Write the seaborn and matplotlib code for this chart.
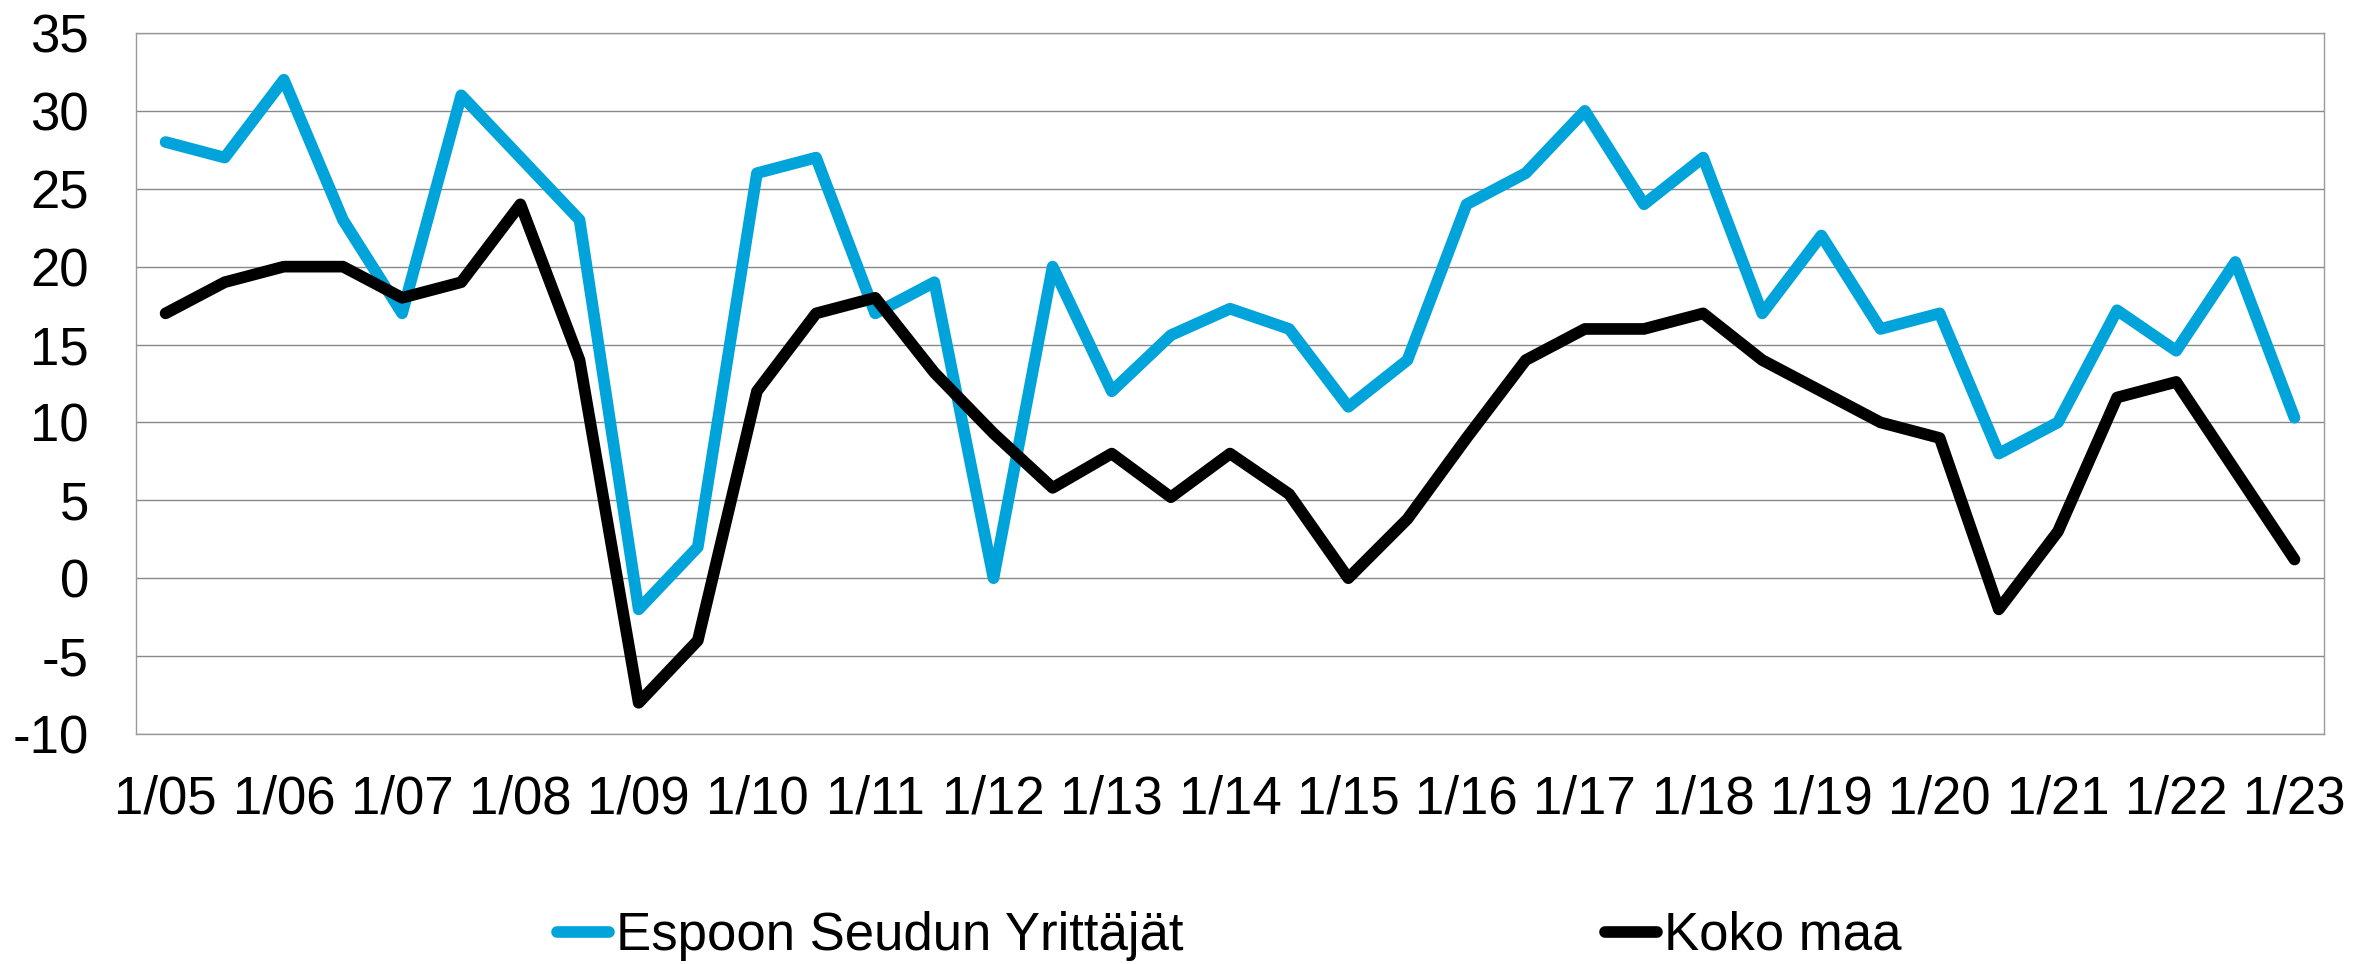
import matplotlib
matplotlib.use("Agg")
import matplotlib.pyplot as plt
import seaborn as sns
import numpy as np
import pandas as pd

# half-year observations, 1/05 ... 1/23
periods = ["1/05", "7/05", "1/06", "7/06", "1/07", "7/07", "1/08", "7/08", "1/09", "7/09",
           "1/10", "7/10", "1/11", "7/11", "1/12", "7/12", "1/13", "7/13", "1/14", "7/14",
           "1/15", "7/15", "1/16", "7/16", "1/17", "7/17", "1/18", "7/18", "1/19", "7/19",
           "1/20", "7/20", "1/21", "7/21", "1/22", "7/22", "1/23"]

espoo = [28, 27, 32, 23, 17, 31, 27, 23, -2, 2,
         26, 27, 17, 19, 0, 20, 12, 15.6, 17.3, 16,
         11, 14, 24, 26, 30, 24, 27, 17, 22, 16,
         17, 8, 10, 17.2, 14.6, 20.3, 10.3]

koko_maa = [17, 19, 20, 20, 18, 19, 24, 14, -8, -4,
            12, 17, 18, 13.2, 9.3, 5.8, 8, 5.2, 8, 5.4,
            0, 3.8, 9, 14, 16, 16, 17, 14, 12, 10,
            9, -2, 3, 11.6, 12.6, 6.9, 1.2]

series_names = ["Espoon Seudun Yrittäjät", "Koko maa"]
tick_labels = periods[::2]

df = pd.concat([
    pd.DataFrame({"pos": np.arange(len(periods)), "value": espoo, "series": series_names[0]}),
    pd.DataFrame({"pos": np.arange(len(periods)), "value": koko_maa, "series": series_names[1]}),
])

sns.set_theme(style="white")
plt.rcParams["font.family"] = ["Liberation Sans", "DejaVu Sans"]
plt.rcParams["axes.unicode_minus"] = False

fig = plt.figure(figsize=(23.53, 9.64), dpi=100)
ax = fig.add_axes([0.0578, 0.2386, 0.9299, 0.7272])

lw = 8.4
sns.lineplot(data=df, x="pos", y="value", hue="series",
             palette={series_names[0]: "#00A3DA", series_names[1]: "#000000"},
             linewidth=lw, ax=ax, legend=False, zorder=3)
for line in ax.lines:
    line.set_solid_capstyle("round")
    line.set_solid_joinstyle("round")

ax.set_xlim(-0.5, len(periods) - 0.5)
ax.set_ylim(-10, 35)
ax.set_yticks(np.arange(-10, 36, 5))
ax.set_xticks(np.arange(0, len(periods), 2))
ax.set_xticklabels(tick_labels)
ax.set_xlabel("")
ax.set_ylabel("")
ax.tick_params(axis="x", length=0, pad=29, labelsize=38, colors="black")
ax.tick_params(axis="y", length=0, pad=34, labelsize=38, colors="black")
ax.yaxis.grid(True, color="#898989", linewidth=1.0, zorder=0)
ax.xaxis.grid(False)
for side in ax.spines.values():
    side.set_color("#9A9A9A")
    side.set_linewidth(1.0)

handles = [plt.Line2D([], [], color="#00A3DA", linewidth=lw, solid_capstyle="round"),
           plt.Line2D([], [], color="#000000", linewidth=lw, solid_capstyle="round")]
leg = fig.legend(handles, series_names, loc="center left", bbox_to_anchor=(557 / 2353, 1 - 936 / 964),
                 ncol=2, frameon=False, fontsize=38, handlelength=0.98, handletextpad=0.13,
                 columnspacing=8.0, borderpad=0, borderaxespad=0)
for t in leg.get_texts():
    t.set_color("black")

fig.savefig("out.png", dpi=100)
